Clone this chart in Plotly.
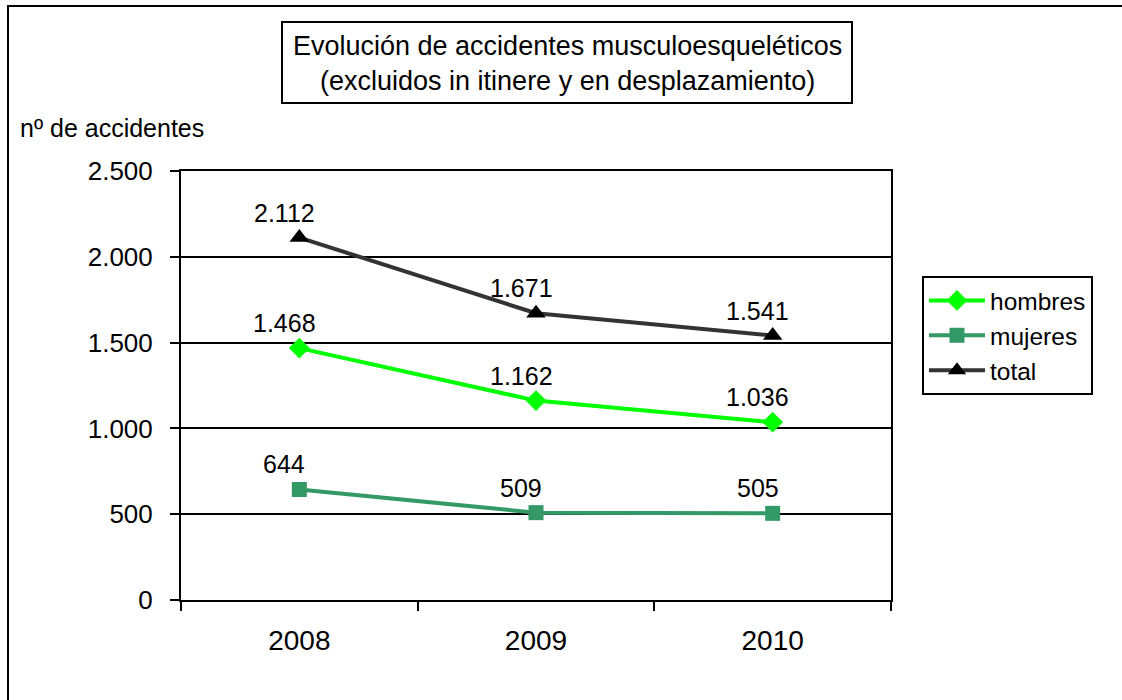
import plotly.graph_objects as go

years = ["2008", "2009", "2010"]
hombres = [1468, 1162, 1036]
mujeres = [644, 509, 505]
total = [2112, 1671, 1541]
y_ticks = [0, 500, 1000, 1500, 2000, 2500]

FONT = "Liberation Sans, Arial, Helvetica, sans-serif"

# plot-area pixel geometry
L, R, T, B = 181, 891, 171, 600
W, H = 1122, 700


def px(x):
    return (x - L) / (R - L)


def py(y):
    return (B - y) / (B - T)


def fmt(v):
    return f"{v:,}".replace(",", ".")


fig = go.Figure()
series = [
    ("hombres", hombres, "#00FF00", "#00FF00", "diamond", 16),
    ("mujeres", mujeres, "#339966", "#339966", "square", 15),
    ("total", total, "#333333", "#000000", "triangle-up", 17),
]
for name, vals, lc, mc, sym, ms in series:
    fig.add_trace(go.Scatter(
        x=years, y=vals, name=name, mode="lines+markers",
        line=dict(color=lc, width=4),
        marker=dict(symbol=sym, size=ms, color=mc, line=dict(width=0)),
    ))

annotations = []
for name, vals, lc, mc, sym, ms in series:
    for i, yv in enumerate(vals):
        annotations.append(dict(
            x=i, y=yv, xref="x", yref="y", text=fmt(yv), showarrow=False,
            xshift=-15, yshift=25, font=dict(family=FONT, size=25, color="black"),
        ))

annotations.append(dict(
    x=px(567), y=py(63), xref="paper", yref="paper", xanchor="center", yanchor="middle",
    text="Evolución de accidentes musculoesqueléticos<br>(excluidos in itinere y en desplazamiento)",
    showarrow=False, font=dict(family=FONT, size=27, color="black"),
))
annotations.append(dict(
    x=px(18), y=py(128), xref="paper", yref="paper", xanchor="left", yanchor="middle",
    text="nº de accidentes", showarrow=False, font=dict(family=FONT, size=25, color="black"),
))

shapes = [
    dict(type="rect", xref="paper", yref="paper", x0=px(8), x1=px(1135), y0=py(712), y1=py(6),
         line=dict(color="black", width=2), fillcolor="rgba(0,0,0,0)", layer="above"),
    dict(type="rect", xref="paper", yref="paper", x0=px(282), x1=px(852), y0=py(103), y1=py(22),
         line=dict(color="black", width=2), fillcolor="rgba(0,0,0,0)", layer="above"),
]

fig.update_layout(
    width=W, height=H,
    margin=dict(l=L, r=W - R, t=T, b=H - B, autoexpand=False),
    paper_bgcolor="white", plot_bgcolor="white",
    separators=",.",
    font=dict(family=FONT, size=24, color="black"),
    showlegend=True,
    legend=dict(
        x=px(922), y=py(276), xanchor="left", yanchor="top",
        bordercolor="black", borderwidth=2, bgcolor="white",
        font=dict(family=FONT, size=24.5, color="black"),
        itemwidth=56, tracegroupgap=0,
    ),
    annotations=annotations,
    shapes=shapes,
)
fig.update_xaxes(
    type="category", categoryorder="array", categoryarray=years,
    range=[-0.5, 2.5], tickson="boundaries", ticks="outside", ticklen=9,
    tickwidth=2, tickcolor="black", showline=True, linecolor="black", linewidth=2,
    mirror=True, showgrid=False, ticklabelstandoff=14,
    tickfont=dict(family=FONT, size=28, color="black"),
)
fig.update_yaxes(
    range=[0, 2500], tickmode="array", tickvals=y_ticks,
    ticktext=[fmt(v) for v in y_ticks],
    ticks="outside", ticklen=9, tickwidth=2, tickcolor="black",
    showline=True, linecolor="black", linewidth=2, mirror=True,
    showgrid=True, gridcolor="black", gridwidth=2, zeroline=False,
    ticklabelstandoff=12,
    tickfont=dict(family=FONT, size=26, color="black"),
)

fig.write_html("out.html", config={"displayModeBar": False},
               post_script="document.body.style.margin='0px';")
